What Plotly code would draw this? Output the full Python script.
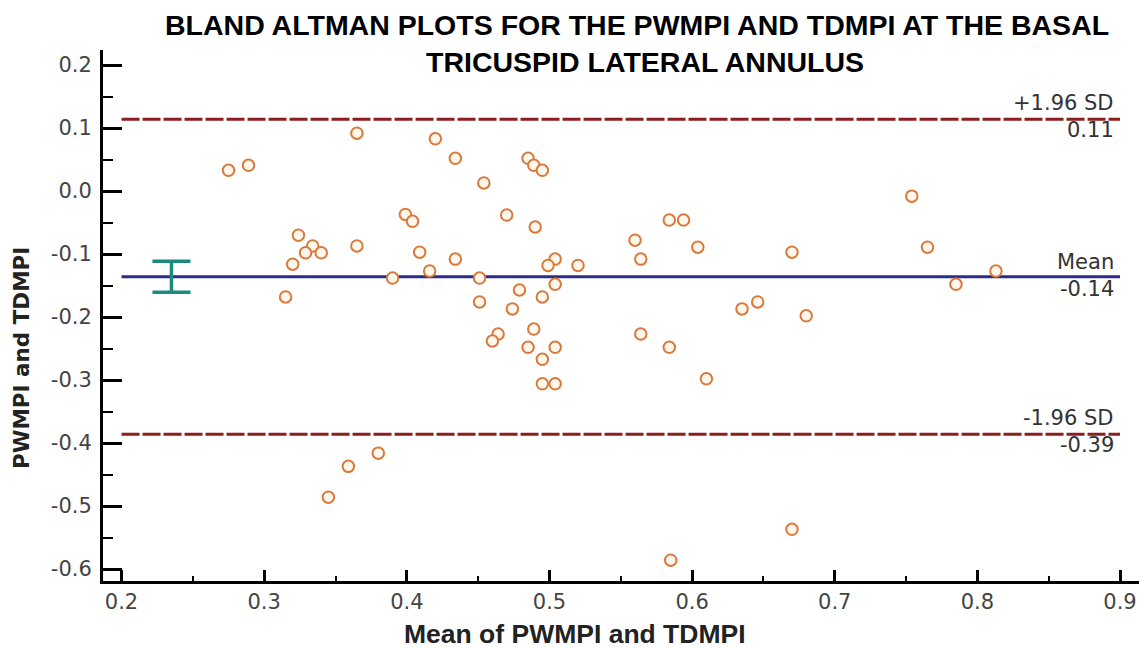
import plotly.graph_objects as go

# ---- data ----
mean_vals = [0.275, 0.289, 0.365, 0.420, 0.434, 0.454, 0.485, 0.489, 0.495, 0.754,
             0.399, 0.404, 0.470, 0.490, 0.324, 0.334, 0.329, 0.340, 0.365, 0.320,
             0.409, 0.434, 0.416, 0.390, 0.451, 0.315, 0.451, 0.560, 0.584, 0.594,
             0.604, 0.564, 0.504, 0.499, 0.520, 0.504, 0.479, 0.495, 0.474, 0.635,
             0.646, 0.489, 0.464, 0.460, 0.485, 0.504, 0.495, 0.495, 0.504, 0.564,
             0.584, 0.610, 0.670, 0.765, 0.813, 0.785, 0.680, 0.345, 0.359, 0.380,
             0.585, 0.670]
diff_vals = [0.033, 0.041, 0.092, 0.083, 0.052, 0.013, 0.052, 0.041, 0.033, -0.008,
             -0.037, -0.048, -0.038, -0.057, -0.070, -0.087, -0.098, -0.098, -0.087, -0.116,
             -0.097, -0.108, -0.127, -0.138, -0.138, -0.168, -0.176, -0.078, -0.046, -0.046,
             -0.089, -0.108, -0.108, -0.118, -0.118, -0.148, -0.157, -0.168, -0.187, -0.187,
             -0.176, -0.219, -0.227, -0.238, -0.248, -0.248, -0.267, -0.306, -0.306, -0.227,
             -0.248, -0.298, -0.097, -0.089, -0.127, -0.148, -0.198, -0.486, -0.437, -0.416,
             -0.586, -0.537]

mean_diff = -0.136
upper_loa = 0.114
lower_loa = -0.386
ci_center_x = 0.235
ci_half = 0.0245

line_x = [0.2, 0.9]

x_tickvals = [0.2, 0.3, 0.4, 0.5, 0.6, 0.7, 0.8, 0.9]
x_ticktext = ["0.2", "0.3", "0.4", "0.5", "0.6", "0.7", "0.8", "0.9"]
y_tickvals = [0.2, 0.1, 0.0, -0.1, -0.2, -0.3, -0.4, -0.5, -0.6]
y_ticktext = ["0.2", "0.1", "0.0", "-0.1", "-0.2", "-0.3", "-0.4", "-0.5", "-0.6"]

fig = go.Figure()

# limits of agreement
for yv in (upper_loa, lower_loa):
    fig.add_trace(go.Scatter(x=line_x, y=[yv, yv], mode="lines",
                             line=dict(color="#8b1e1e", width=3, dash="18px,3px"),
                             hoverinfo="skip", showlegend=False))
# mean line
fig.add_trace(go.Scatter(x=line_x, y=[mean_diff, mean_diff], mode="lines",
                         line=dict(color="#2b2d86", width=3),
                         hoverinfo="skip", showlegend=False))

# CI of mean (error bar)
fig.add_trace(go.Scatter(x=[ci_center_x], y=[mean_diff], mode="markers",
                         marker=dict(size=1, color="rgba(0,0,0,0)"),
                         error_y=dict(type="data", array=[ci_half], symmetric=True,
                                      color="#1d8a7f", thickness=3.5, width=19),
                         hoverinfo="skip", showlegend=False))

# data points
fig.add_trace(go.Scatter(x=mean_vals, y=diff_vals, mode="markers",
                         marker=dict(symbol="circle", size=11.5, color="#fff7ec",
                                     line=dict(color="#d97a3c", width=2)),
                         showlegend=False))

tick_font = dict(family="DejaVu Sans", size=21, color="#444444")
note_font = dict(family="DejaVu Sans", size=21, color="#333333")

fig.update_xaxes(range=[0.187, 0.914], tickvals=x_tickvals, ticktext=x_ticktext,
                 showgrid=False, zeroline=False, showline=True, linecolor="black",
                 linewidth=3, ticks="inside", ticklen=11, tickwidth=3, tickcolor="black",
                 tickfont=tick_font, ticklabelstandoff=0,
                 minor=dict(dtick=0.05, ticks="inside", ticklen=5, tickwidth=2,
                            tickcolor="black", showgrid=False))
fig.update_yaxes(range=[-0.619, 0.224], tickvals=y_tickvals, ticktext=y_ticktext,
                 showgrid=False, zeroline=False, showline=True, linecolor="black",
                 linewidth=3, ticks="inside", ticklen=19, tickwidth=3, tickcolor="black",
                 tickfont=tick_font, ticklabelstandoff=4,
                 minor=dict(dtick=0.05, ticks="inside", ticklen=10, tickwidth=2,
                            tickcolor="black", showgrid=False))

annotations = [
    dict(text="+1.96 SD", x=0.897, y=0.140, xanchor="right", yanchor="middle"),
    dict(text="0.11", x=0.897, y=0.097, xanchor="right", yanchor="middle"),
    dict(text="Mean", x=0.897, y=-0.112, xanchor="right", yanchor="middle"),
    dict(text="-0.14", x=0.897, y=-0.156, xanchor="right", yanchor="middle"),
    dict(text="-1.96 SD", x=0.897, y=-0.360, xanchor="right", yanchor="middle"),
    dict(text="-0.39", x=0.897, y=-0.403, xanchor="right", yanchor="middle"),
]
for a in annotations:
    fig.add_annotation(xref="x", yref="y", showarrow=False, font=note_font, **a)

title_font = dict(family="Liberation Sans", size=28.5, color="black")
fig.add_annotation(text="<b>BLAND ALTMAN PLOTS FOR THE PWMPI AND TDMPI AT THE BASAL</b>",
                   xref="paper", yref="paper", x=0.515, y=1.048,
                   xanchor="center", yanchor="middle", showarrow=False, font=title_font,
                   borderpad=0)
fig.add_annotation(text="<b>TRICUSPID LATERAL ANNULUS</b>",
                   xref="paper", yref="paper", x=0.523, y=0.977,
                   xanchor="center", yanchor="middle", showarrow=False, font=title_font,
                   borderpad=0)
fig.add_annotation(text="<b>Mean of PWMPI and TDMPI</b>",
                   xref="paper", yref="paper", x=0.455, y=-0.0998,
                   xanchor="center", yanchor="middle", showarrow=False,
                   font=dict(family="Liberation Sans", size=26.5, color="#222222"))
fig.add_annotation(text="<b>PWMPI and TDMPI</b>",
                   xref="paper", yref="paper", x=-0.078, y=0.42, textangle=-90,
                   xanchor="center", yanchor="middle", showarrow=False,
                   font=dict(family="DejaVu Sans", size=21.5, color="#222222"))

# figure is offset by the page's default 8px body margin, so shrink accordingly
fig.update_layout(width=1139, height=640, margin=dict(l=95, r=7, t=42, b=67),
                  plot_bgcolor="white", paper_bgcolor="white", showlegend=False)

fig.write_html("out.html")
